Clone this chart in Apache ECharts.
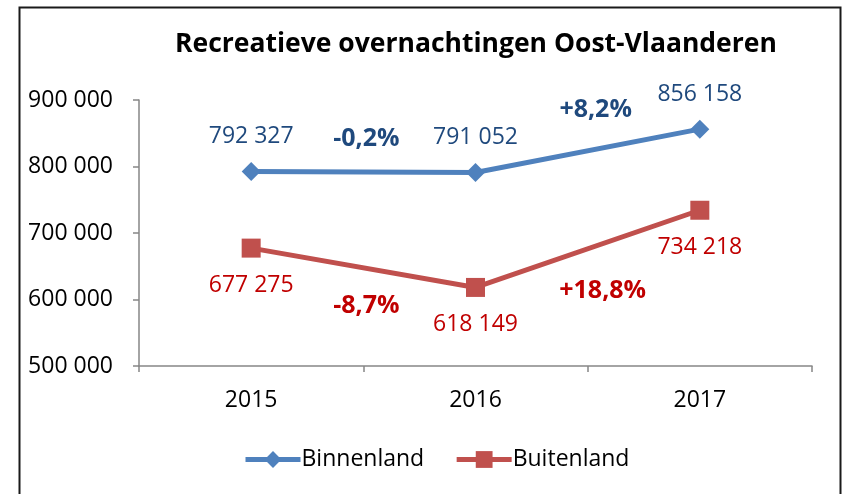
<!DOCTYPE html>
<html><head><meta charset="utf-8">
<script src="https://cdn.jsdelivr.net/npm/echarts@6/dist/echarts.min.js"></script>
<style>html,body{margin:0;padding:0;background:#fff}#c{width:849px;height:494px}</style>
</head><body><div id="c"></div>
<script>
// ---- data ----
const chartTitle = 'Recreatieve overnachtingen Oost-Vlaanderen';
const categories = ['2015', '2016', '2017'];
const seriesNames = ['Binnenland', 'Buitenland'];
const binnenland = [792327, 791052, 856158];
const buitenland = [677275, 618149, 734218];
const yMin = 500000, yMax = 900000, yStep = 100000;

// ---- styles ----
const FONT = '"Open Sans", "Liberation Sans", sans-serif';
const BLUE_LINE = '#4F81BD', RED_LINE = '#C0504D';
const BLUE_TEXT = '#1F497D', RED_TEXT = '#C00000';
const FS = 23;

const fmt = v => String(v).replace(/\B(?=(\d{3})+(?!\d))/g, ' ');
const pct = (a, b) => { const p = (b / a - 1) * 100; return (p > 0 ? '+' : '') + p.toFixed(1).replace('.', ','); };

const chart = echarts.init(document.getElementById('c'), null, {renderer: 'canvas'});
chart.setOption({
  animation: false,
  backgroundColor: '#fff',
  title: {
    text: chartTitle, left: 170, top: 26,
    textStyle: {fontFamily: FONT, fontWeight: 'bold', fontSize: 26.5, color: '#000'}
  },
  grid: {left: 139, right: 37, top: 100, bottom: 128, containLabel: false},
  legend: {
    data: seriesNames, left: 243, top: 448, padding: 0, itemWidth: 55, itemHeight: 21, itemGap: 30,
    lineStyle: {width: 5},
    textStyle: {fontFamily: FONT, fontSize: FS, color: '#000', padding: [0, 0, 0, -4]}
  },
  xAxis: {
    type: 'category', data: categories, boundaryGap: true,
    axisLine: {lineStyle: {color: '#868686', width: 1.5}},
    axisTick: {show: true, length: 6, alignWithLabel: false, lineStyle: {color: '#868686', width: 1.5}},
    axisLabel: {fontFamily: FONT, fontSize: FS, color: '#000', margin: 23}
  },
  yAxis: {
    type: 'value', min: yMin, max: yMax, interval: yStep,
    axisLine: {show: true, lineStyle: {color: '#868686', width: 1.5}},
    axisTick: {show: true, length: 6, lineStyle: {color: '#868686', width: 1.5}},
    splitLine: {show: false},
    axisLabel: {fontFamily: FONT, fontSize: FS, color: '#000', margin: 26, formatter: fmt}
  },
  series: [
    {
      name: seriesNames[0], type: 'line', data: binnenland,
      symbol: 'diamond', symbolSize: 19,
      lineStyle: {color: BLUE_LINE, width: 5}, itemStyle: {color: BLUE_LINE},
      label: {show: true, position: 'top', distance: 14, formatter: p => fmt(p.value),
        fontFamily: FONT, fontSize: FS, color: BLUE_TEXT}
    },
    {
      name: seriesNames[1], type: 'line', data: buitenland,
      symbol: 'rect', symbolSize: 19,
      lineStyle: {color: RED_LINE, width: 5}, itemStyle: {color: RED_LINE},
      label: {show: true, position: 'bottom', distance: 16, formatter: p => fmt(p.value),
        fontFamily: FONT, fontSize: FS, color: RED_TEXT}
    }
  ]
});

// change labels between consecutive years, placed at segment midpoints via the chart's scales
const offsets = {
  0: [[3, -33], [8, -41]],
  1: [[3, 38], [15, 42]]
};
const graphics = [{
  type: 'rect', left: 17, top: 5, z: 100,
  shape: {width: 821, height: 500},
  style: {fill: 'none', stroke: '#1a1a1a', lineWidth: 2}
}];
[[binnenland, BLUE_TEXT], [buitenland, RED_TEXT]].forEach(([arr, color], si) => {
  for (let i = 0; i < arr.length - 1; i++) {
    const p1 = chart.convertToPixel({gridIndex: 0}, [categories[i], arr[i]]);
    const p2 = chart.convertToPixel({gridIndex: 0}, [categories[i + 1], arr[i + 1]]);
    const yMid = chart.convertToPixel({yAxisIndex: 0}, (arr[i] + arr[i + 1]) / 2);
    const off = offsets[si][i];
    graphics.push({
      type: 'text', x: (p1[0] + p2[0]) / 2 + off[0], y: yMid + off[1],
      style: {text: pct(arr[i], arr[i + 1]) + '%', fill: color, font: 'bold 25px ' + FONT,
        align: 'center', verticalAlign: 'middle'}
    });
  }
});
chart.setOption({graphic: graphics});
</script>
</body></html>
